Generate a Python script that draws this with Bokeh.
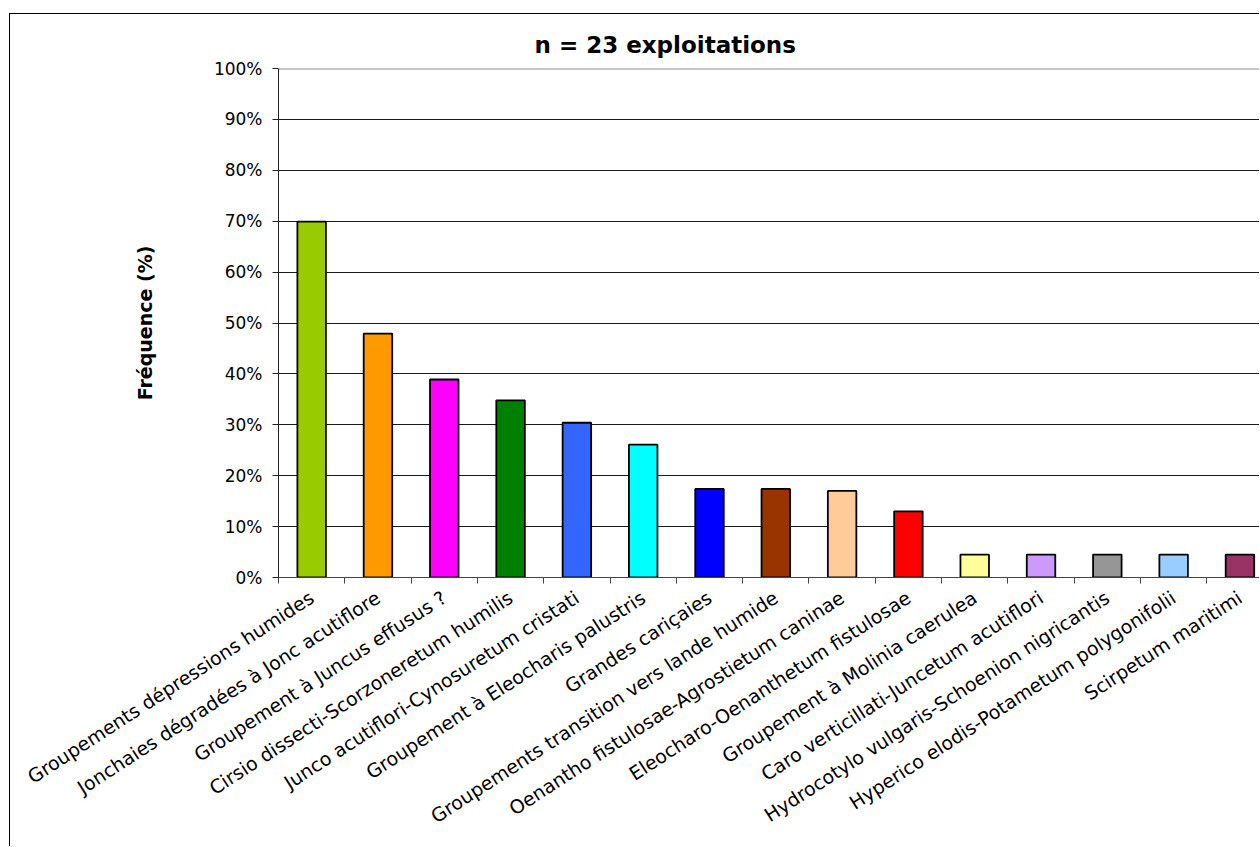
from bokeh.plotting import figure
from bokeh.models import ColumnDataSource, Range1d, FixedTicker, Span
from bokeh.embed import file_html
from bokeh.resources import INLINE

# Plant communities found on the farms, with their frequency of occurrence (%)
categories = [
    "Groupements dépressions humides",
    "Jonchaies dégradées à Jonc acutiflore",
    "Groupement à Juncus effusus ?",
    "Cirsio dissecti-Scorzoneretum humilis",
    "Junco acutiflori-Cynosuretum cristati",
    "Groupement à Eleocharis palustris",
    "Grandes cariçaies",
    "Groupements transition vers lande humide",
    "Oenantho fistulosae-Agrostietum caninae",
    "Eleocharo-Oenanthetum fistulosae",
    "Groupement à Molinia caerulea",
    "Caro verticillati-Juncetum acutiflori",
    "Hydrocotylo vulgaris-Schoenion nigricantis",
    "Hyperico elodis-Potametum polygonifolii",
    "Scirpetum maritimi",
]
frequencies = [69.9, 47.9, 38.9, 34.8, 30.4, 26.1, 17.4, 17.4, 17.0, 13.0,
               4.5, 4.5, 4.5, 4.5, 4.5]
bar_colors = ["#99CC00", "#FF9900", "#FF00FF", "#008000", "#3366FF",
              "#00FFFF", "#0000FF", "#993300", "#FFCC99", "#FF0000",
              "#FFFF99", "#CC99FF", "#969696", "#99CCFF", "#993366"]
y_ticks = [0, 10, 20, 30, 40, 50, 60, 70, 80, 90, 100]
y_tick_labels = ["0%", "10%", "20%", "30%", "40%", "50%", "60%", "70%",
                 "80%", "90%", "100%"]
title_text = "n = 23 exploitations"
y_title = "Fréquence (%)"

n_cat = len(categories)
centers = [i + 0.5 for i in range(n_cat)]

source = ColumnDataSource(data=dict(x=centers, top=frequencies, color=bar_colors))

p = figure(width=1250, height=833, output_backend="svg", toolbar_location=None,
           tools="", x_range=Range1d(0, 14.81), y_range=Range1d(0, 100),
           min_border_left=268, min_border_right=0, min_border_top=54,
           min_border_bottom=270)
p.styles = {"margin-left": "9px", "margin-top": "13px",
            "border-left": "1px solid #000000", "border-top": "1px solid #000000"}
p.background_fill_color = "white"
p.border_fill_color = "white"
p.outline_line_color = None

p.vbar(x="x", top="top", bottom=0, width=0.43, source=source,
       fill_color="color", line_color="black", line_width=1.8)

# horizontal gridlines; the top edge of the plot area is drawn in grey
p.xgrid.visible = False
p.ygrid.ticker = FixedTicker(ticks=y_ticks[1:-1])
p.ygrid.grid_line_color = "#1a1a1a"
p.ygrid.grid_line_width = 1
p.add_layout(Span(location=y_ticks[-1], dimension="width",
                  line_color="#8c8c8c", line_width=2))

# y axis
p.yaxis.ticker = FixedTicker(ticks=y_ticks)
p.yaxis.major_label_overrides = {t: lab for t, lab in zip(y_ticks, y_tick_labels)}
p.yaxis.major_tick_out = 6
p.yaxis.major_tick_in = 0
p.yaxis.minor_tick_out = 0
p.yaxis.minor_tick_in = 0
p.yaxis.axis_line_color = "#222222"
p.yaxis.major_tick_line_color = "#222222"
p.yaxis.major_label_standoff = 10
p.yaxis.major_label_text_font = "DejaVu Sans"
p.yaxis.major_label_text_font_size = "17px"
p.yaxis.major_label_text_color = "black"
p.yaxis.axis_label = y_title
p.yaxis.axis_label_text_font = "DejaVu Sans"
p.yaxis.axis_label_text_font_style = "bold"
p.yaxis.axis_label_text_font_size = "19px"
p.yaxis.axis_label_text_color = "black"
p.yaxis.axis_label_standoff = 55

# x axis: labels at category centres, tick marks between categories
p.xaxis.ticker = FixedTicker(ticks=centers, minor_ticks=list(range(n_cat + 1)))
p.xaxis.major_label_overrides = {c: lab for c, lab in zip(centers, categories)}
p.xaxis.major_tick_out = 0
p.xaxis.major_tick_in = 0
p.xaxis.minor_tick_out = 6
p.xaxis.minor_tick_in = 0
p.xaxis.minor_tick_line_color = "#444444"
p.xaxis.axis_line_color = "#444444"
p.xaxis.major_label_orientation = 0.575
p.xaxis.major_label_standoff = 12
p.xaxis.major_label_text_font = "DejaVu Sans"
p.xaxis.major_label_text_font_size = "19px"
p.xaxis.major_label_text_color = "black"

p.title.text = title_text
p.title.align = "left"
p.title.offset = 256
p.title.text_font = "DejaVu Sans"
p.title.text_font_style = "bold"
p.title.text_font_size = "23px"
p.title.text_color = "black"
p.title.standoff = 21

open("out.html", "w").write(file_html(p, INLINE))
